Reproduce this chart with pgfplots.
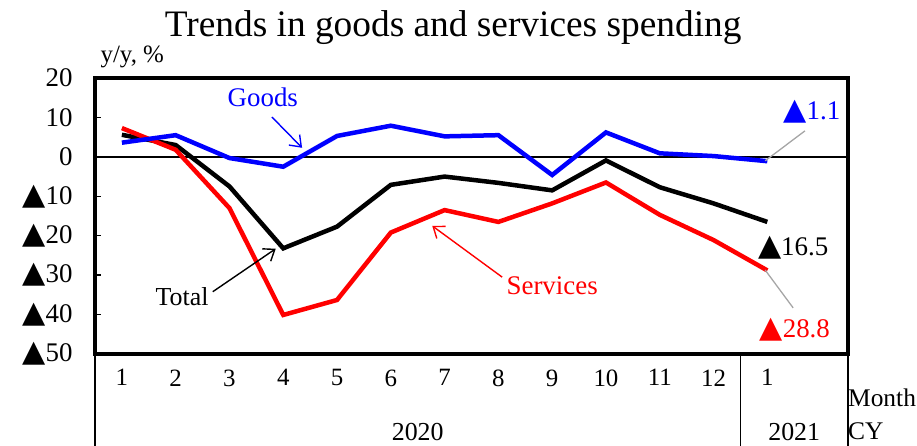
\documentclass[border=0pt]{standalone}
\usepackage{fontspec}
\setmainfont{Liberation Serif}
\newfontfamily\sym{DejaVu Sans}
\usepackage{graphicx}
\usepackage{pgfplots}
\pgfplotsset{compat=1.18}
\usetikzlibrary{arrows.meta}
\newcommand{\tri}{{\sym\scalebox{1.12}{▲}}}
\newcommand{\fs}[1]{\fontsize{#1}{#1}\selectfont}
\definecolor{gblue}{RGB}{0,0,255}
\definecolor{sred}{RGB}{255,0,0}
\begin{document}
\begin{tikzpicture}
\useasboundingbox (-95bp,-92bp) rectangle (822bp,354bp);
\begin{axis}[
  at={(0,0)}, anchor=south west,
  scale only axis, width=753bp, height=276bp,
  xmin=0.5, xmax=14.5, ymin=-50, ymax=20,
  clip=false,
  axis line style={line width=3.5bp},
  ytick={-50,-40,...,20},
  yticklabels={\tri50,\tri40,\tri30,\tri20,\tri10,0,10,20},
  ytick pos=left,
  tick align=inside,
  major tick length=6bp,
  ytick style={line width=1.5bp, black},
  yticklabel style={font=\fs{27}, xshift=-19bp},
  xtick={1,...,13},
  xticklabels={1,2,3,4,5,6,7,8,9,10,11,12,1},
  xtick style={draw=none},
  xticklabel style={font=\fs{25}, yshift=-12bp},
]
\addplot[black, line width=2bp] coordinates {(0.5,0) (14.5,0)};
\addplot[black, line width=4.5bp] coordinates {
(1,5.6) (2,3.0) (3,-7.5) (4,-23.2) (5,-17.7) (6,-7.1) (7,-5.0) (8,-6.6) (9,-8.5) (10,-0.9) (11,-7.7) (12,-11.8) (13,-16.5)};
\addplot[sred, line width=4.5bp] coordinates {
(1,7.3) (2,1.8) (3,-13.0) (4,-40.1) (5,-36.3) (6,-19.2) (7,-13.5) (8,-16.5) (9,-11.8) (10,-6.5) (11,-14.7) (12,-21.1) (13,-28.8)};
\addplot[gblue, line width=4.5bp] coordinates {
(1,3.6) (2,5.5) (3,-0.3) (4,-2.5) (5,5.3) (6,7.9) (7,5.2) (8,5.5) (9,-4.6) (10,6.2) (11,0.9) (12,0.2) (13,-1.1)};
% separators
\draw[line width=1.5bp] (axis cs:0.5,-50) -- (axis cs:0.5,-74);
\draw[line width=1.5bp] (axis cs:12.5,-50) -- (axis cs:12.5,-74);
\draw[line width=1.5bp] (axis cs:14.5,-50) -- (axis cs:14.5,-74);
\node[font=\fs{26}] at (axis cs:6.5,-69.7) {2020};
\node[font=\fs{26}] at (axis cs:13.5,-69.7) {2021};
\node[font=\fs{25.5}, anchor=west, inner sep=0pt] at (axis cs:14.5,-61.1) {Month};
\node[font=\fs{25.5}, anchor=west, inner sep=0pt] at (axis cs:14.5,-69.7) {CY};
% y label and title
\node[font=\fs{25}, anchor=west, inner sep=0pt] at (axis cs:0.6,25.3) {y/y, \%};
\node[font=\fs{37.5}] at (axis cs:7.16,32.9) {Trends in goods and services spending};
% annotations
\node[font=\fs{27}, text=gblue] at (axis cs:3.62,15.2) {Goods};
\draw[gblue, line width=1.4bp, -{Straight Barb[length=10bp, width=15bp]}] (axis cs:3.79,10.1) -- (axis cs:4.35,2.3);
\node[font=\fs{26}] at (axis cs:2.12,-35.5) {Total};
\draw[black, line width=1.4bp, -{Straight Barb[length=10bp, width=15bp]}] (axis cs:2.69,-34.2) -- (axis cs:3.86,-23.3);
\node[font=\fs{27}, text=sred] at (axis cs:9.0,-32.7) {Services};
\draw[sred, line width=1.4bp, -{Straight Barb[length=10bp, width=15bp]}] (axis cs:8.07,-30.5) -- (axis cs:6.77,-17.5);
% value labels
\draw[gray!70, line width=1.3bp] (axis cs:12.96,-1.0) -- (axis cs:13.70,6.6);
\node[font=\fs{27}, text=gblue] at (axis cs:13.83,11.4) {\tri1.1};
\node[font=\fs{27}] at (axis cs:13.48,-23.1) {\tri16.5};
\draw[gray!70, line width=1.3bp] (axis cs:12.96,-28.7) -- (axis cs:13.48,-38.3);
\node[font=\fs{27}, text=sred] at (axis cs:13.51,-43.9) {\tri28.8};
\end{axis}
\end{tikzpicture}
\end{document}
